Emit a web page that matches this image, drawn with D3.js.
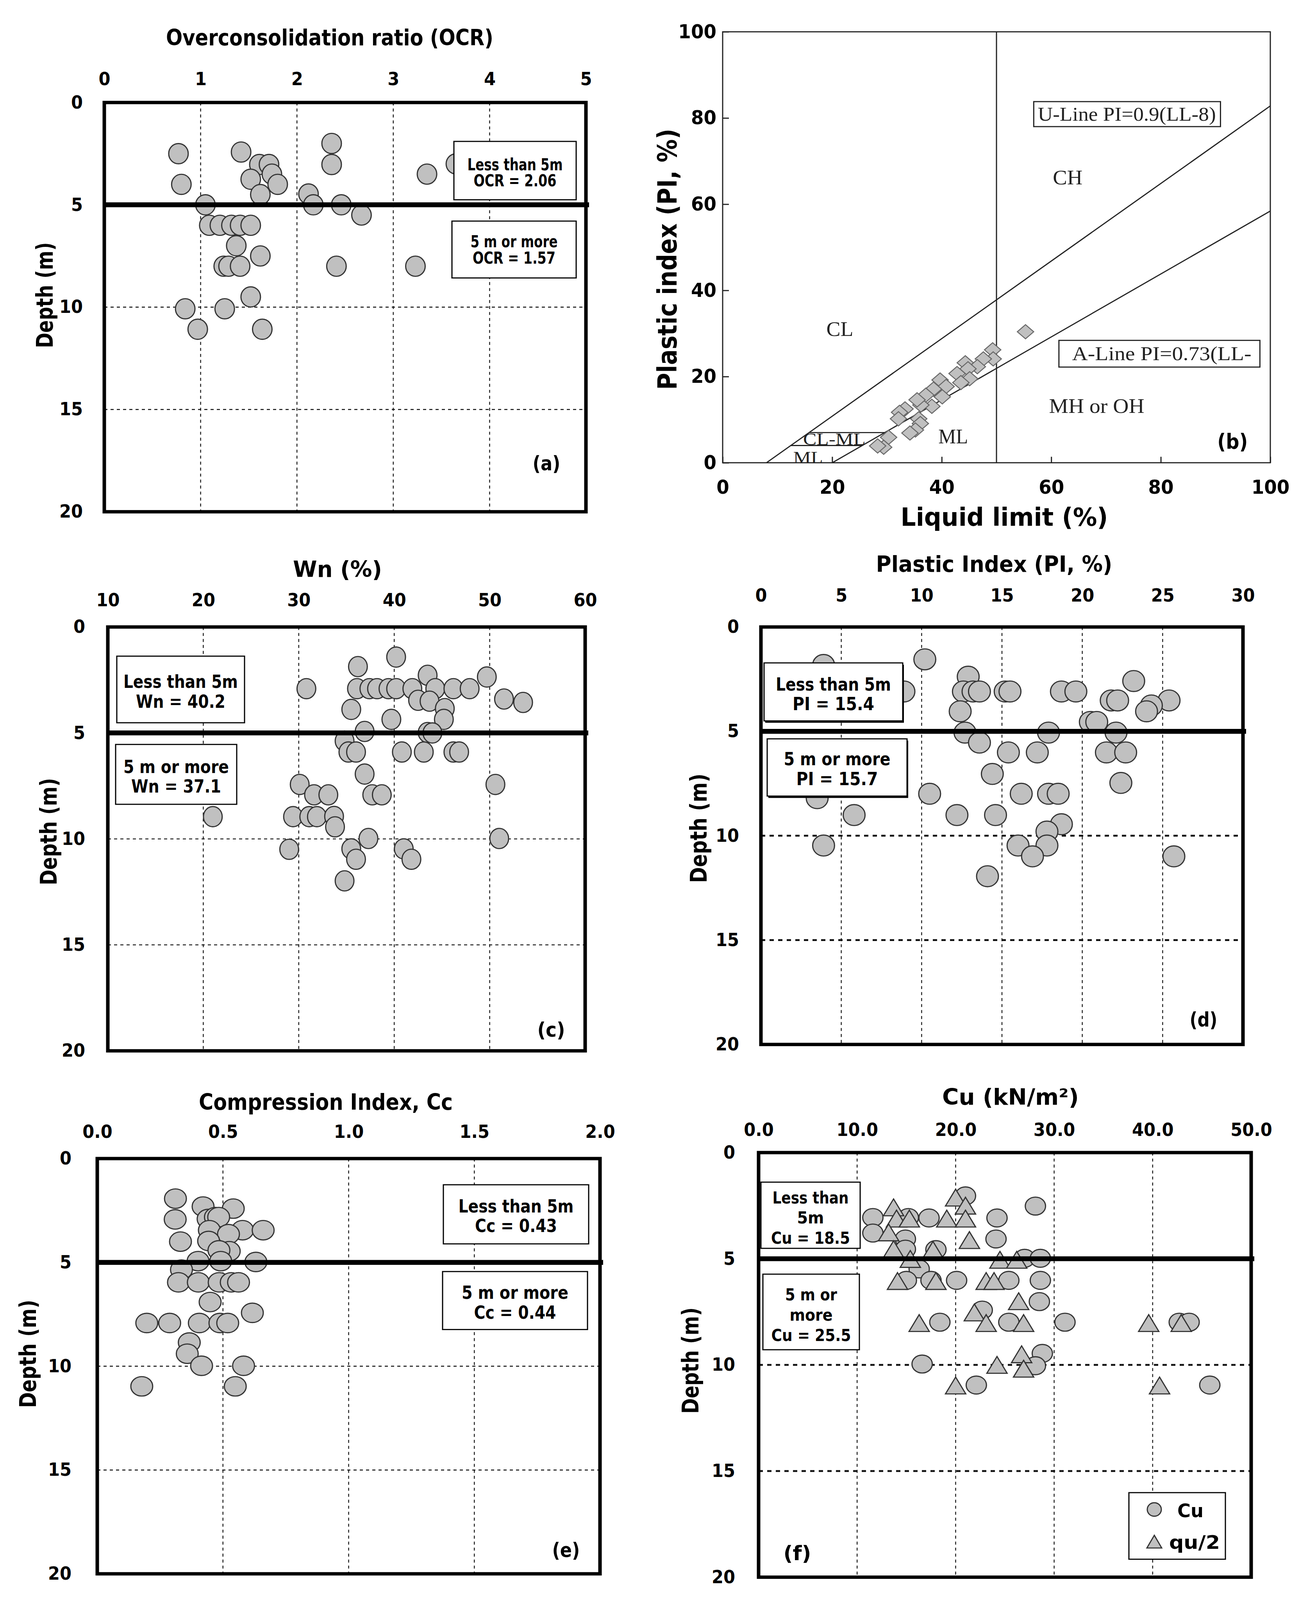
<!DOCTYPE html>
<html>
<head>
<meta charset="utf-8">
<script src="https://cdn.jsdelivr.net/npm/d3@7"></script>
<style>
  html, body { margin: 0; background: #fff; overflow: hidden; }
  svg { display: block; width: 100vw; height: 100vh; }
</style>
</head>
<body>
<svg id="fig" viewBox="0 0 3328 4277" preserveAspectRatio="none"></svg>
<script>
// ---- data ----
const depthTicks = [0, 5, 10, 15, 20];
const depthGrid = [5, 10, 15];

// (a) OCR vs depth
const ocrValue = [0.77, 0.80, 1.42, 1.61, 1.71, 1.74, 1.52, 1.80, 1.62, 2.12, 2.17, 2.36, 2.36, 2.46, 2.67, 3.35, 3.65, 1.05,
  1.09, 1.20, 1.32, 1.41, 1.52, 1.37, 1.62, 1.24, 1.29, 1.41, 2.41, 3.23, 1.52, 0.84, 1.25, 0.97, 1.64];
const ocrDepth = [2.5, 4.0, 2.42, 3.03, 3.03, 3.5, 3.75, 4.0, 4.5, 4.47, 5.0, 2.0, 3.03, 5.0, 5.5, 3.5, 3.0, 5.0,
  6.0, 6.0, 6.0, 6.0, 6.0, 7.0, 7.5, 8.0, 8.0, 8.0, 8.0, 8.0, 9.5, 10.08, 10.08, 11.08, 11.08];
const ocrTicks = [0, 1, 2, 3, 4, 5];

// (b) plasticity chart
const llValue = [55.3, 49.3, 49.4, 47.6, 46.5, 44.3, 44.8, 42.8, 45.1, 43.5, 39.7, 40.8, 38.5, 37.1, 40.1, 38.2, 36.2, 35.5,
  33.3, 32.3, 32.1, 35.8, 36.1, 35.2, 34.2, 30.3, 29.4, 28.3];
const piChart = [30.4, 26.2, 24.1, 24.1, 22.3, 23.2, 21.8, 20.7, 19.5, 18.6, 19.2, 17.7, 17.1, 15.7, 15.3, 13.1, 13.4, 14.6,
  12.5, 11.7, 10.2, 10.2, 9.1, 7.6, 6.9, 5.9, 3.6, 3.9];
const chartTicks = [0, 20, 40, 60, 80, 100];
const uLine = [[8, 0], [100, 82.8]];
const aLine = [[20, 0], [100, 58.4]];
const llDivide = [[50, 0], [50, 100]];
const clmlLow = [[12.4, 4], [25.5, 4]];
const clmlHigh = [[15.8, 7], [29.6, 7]];

// (c) natural water content
const wnValue = [40.2, 36.2, 30.8, 36.1, 37.4, 38.2, 39.4, 40.2, 41.9, 43.5, 44.3, 46.2, 47.9, 49.7, 42.5, 43.7, 51.5, 53.5,
  35.5, 45.3, 45.2, 39.7, 36.9, 43.5, 44.0, 34.8, 35.2, 36.0, 40.8, 43.1, 46.2, 46.8, 36.9, 30.1, 50.6, 31.6, 33.1, 37.7,
  38.7, 21.0, 29.4, 31.1, 31.9, 33.7, 33.8, 37.3, 51.0, 29.0, 35.5, 41.0, 36.0, 41.8, 34.8];
const wnDepth = [1.42, 1.87, 2.91, 2.91, 2.91, 2.91, 2.91, 2.91, 2.91, 2.28, 2.91, 2.91, 2.91, 2.36, 3.46, 3.5, 3.4, 3.56,
  3.89, 3.85, 4.36, 4.36, 4.93, 4.98, 5.0, 5.38, 5.9, 5.9, 5.9, 5.9, 5.9, 5.9, 6.94, 7.43, 7.43, 7.92, 7.92, 7.92,
  7.92, 8.95, 8.95, 8.95, 8.95, 8.94, 9.43, 9.98, 9.98, 10.49, 10.47, 10.47, 10.96, 10.96, 11.98];
const wnTicks = [10, 20, 30, 40, 50, 60];

// (d) plastic index
const piValue = [3.9, 8.9, 10.2, 12.9, 12.6, 13.2, 13.6, 15.2, 15.5, 18.7, 19.6, 23.2, 21.8, 22.2, 25.4, 24.3, 24.0, 12.4,
  20.5, 20.9, 12.7, 17.9, 22.1, 13.6, 15.4, 17.2, 21.5, 22.7, 14.4, 22.4, 3.5, 10.5, 16.2, 17.9, 18.5, 5.8, 12.2, 14.6,
  18.7, 17.8, 3.9, 16.0, 17.8, 16.9, 25.7, 14.1];
const piDepth = [1.82, 3.09, 1.55, 2.38, 3.09, 3.09, 3.09, 3.09, 3.09, 3.09, 3.09, 2.59, 3.52, 3.52, 3.52, 3.76, 4.04, 4.04,
  4.55, 4.55, 5.06, 5.06, 5.06, 5.54, 6.01, 6.01, 6.01, 6.01, 7.04, 7.47, 8.2, 7.99, 7.99, 7.99, 7.99, 9.01, 9.01, 9.01,
  9.45, 9.8, 10.47, 10.47, 10.47, 10.99, 10.99, 11.94];
const piTicks = [0, 5, 10, 15, 20, 25, 30];

// (e) compression index
const ccValue = [0.311, 0.310, 0.421, 0.541, 0.441, 0.470, 0.483, 0.331, 0.446, 0.578, 0.660, 0.522, 0.443, 0.525, 0.484,
  0.401, 0.491, 0.631, 0.335, 0.323, 0.402, 0.485, 0.533, 0.562, 0.449, 0.617, 0.197, 0.288, 0.406, 0.488, 0.519, 0.366,
  0.358, 0.415, 0.582, 0.177, 0.549];
const ccDepth = [1.93, 2.93, 2.31, 2.41, 2.91, 2.82, 2.82, 4.0, 3.45, 3.45, 3.45, 3.64, 3.97, 4.46, 4.42, 4.94, 4.94, 4.98,
  5.35, 5.96, 5.96, 5.96, 5.96, 5.96, 6.91, 7.43, 7.92, 7.92, 7.92, 7.92, 7.92, 8.86, 9.40, 9.98, 9.98, 10.97, 10.97];
const ccTicks = [0, 0.5, 1.0, 1.5, 2.0];

// (f) undrained shear strength
const cuValue = [21.0, 28.1, 11.6, 15.2, 17.3, 24.2, 11.6, 14.9, 24.1, 18.0, 14.9, 27.0, 28.6, 16.3, 15.0, 17.5, 20.1, 25.4,
  28.6, 28.5, 22.7, 18.4, 25.4, 31.1, 42.7, 43.7, 28.8, 28.1, 16.6, 22.1, 45.8];
const cuDepth = [2.04, 2.52, 3.06, 3.06, 3.08, 3.08, 3.79, 4.07, 4.07, 4.57, 4.55, 4.98, 4.98, 5.48, 6.02, 6.02, 6.02, 6.02,
  6.02, 7.02, 7.42, 7.99, 7.99, 7.99, 7.99, 7.99, 9.46, 10.04, 9.96, 10.95, 10.95];
const qu2Value = [20.0, 13.7, 21.0, 14.0, 15.3, 19.1, 21.0, 13.2, 21.4, 13.7, 17.7, 15.4, 24.5, 26.2, 14.1, 18.0, 23.1, 23.9,
  26.4, 21.9, 16.3, 23.1, 26.9, 39.6, 42.9, 26.7, 24.2, 26.9, 20.0, 40.7];
const qu2Depth = [2.12, 2.58, 2.50, 3.11, 3.11, 3.11, 3.11, 3.76, 4.12, 4.55, 4.58, 5.01, 5.05, 5.05, 6.05, 6.05, 6.05, 6.05,
  7.0, 7.53, 8.03, 8.03, 8.03, 8.03, 8.03, 9.50, 10.0, 10.18, 10.97, 10.97];
const cuTicks = [0, 10, 20, 30, 40, 50];

// ---- drawing ----
const SANS = "'DejaVu Sans Condensed', 'DejaVu Sans', sans-serif";
const SERIF = "'Liberation Serif', 'DejaVu Serif', serif";
const FILL = '#c0c0c0';

const svg = d3.select('#fig');
svg.append('rect').attr('width', 3328).attr('height', 4277).attr('fill', '#fff');

function txt(g, s, x, y, size, opt = {}) {
  const t = g.append('text').attr('x', x).attr('y', y).text(s)
    .attr('font-family', opt.family || SANS).attr('font-size', size)
    .attr('font-weight', opt.weight || 'bold').attr('fill', opt.fill || '#000')
    .attr('text-anchor', opt.anchor || 'middle').attr('dominant-baseline', 'central');
  if (opt.len) t.attr('textLength', opt.len).attr('lengthAdjust', 'spacingAndGlyphs');
  if (opt.rotate) t.attr('transform', `rotate(${opt.rotate},${x},${y})`);
  return t;
}

function tri(cx, cy, hw, h) {
  return `M${cx},${cy - h / 2}L${cx + hw},${cy + h / 2}L${cx - hw},${cy + h / 2}Z`;
}

function depthPanel(p) {
  const g = svg.append('g');
  const x = d3.scaleLinear().domain(p.xDomain).range([p.left, p.right]);
  const y = d3.scaleLinear().domain([0, 20]).range([p.top, p.bottom]);

  // grid
  g.selectAll(null).data(p.xGrid).join('line')
    .attr('x1', d => x(d)).attr('x2', d => x(d))
    .attr('y1', p.top).attr('y2', p.bottom)
    .attr('stroke', '#222').attr('stroke-width', 2.5).attr('stroke-dasharray', '8,8');
  g.selectAll(null).data(depthGrid).join('line')
    .attr('x1', p.left).attr('x2', p.right)
    .attr('y1', d => y(d)).attr('y2', d => y(d))
    .attr('stroke', '#111')
    .attr('stroke-width', p.heavy ? 5 : 2.5)
    .attr('stroke-dasharray', p.heavy ? '11,11' : '8,8');

  // points
  p.series.forEach(s => {
    const pts = s.x.map((v, i) => [v, s.d[i]]);
    if (s.shape === 'tri') {
      g.selectAll(null).data(pts).join('path')
        .attr('d', d => tri(x(d[0]), y(d[1]), s.hw, s.h))
        .attr('fill', FILL).attr('stroke', '#333').attr('stroke-width', 3);
    } else {
      g.selectAll(null).data(pts).join('ellipse')
        .attr('cx', d => x(d[0])).attr('cy', d => y(d[1]))
        .attr('rx', s.rx).attr('ry', s.ry)
        .attr('fill', FILL).attr('stroke', '#333').attr('stroke-width', 3);
    }
  });

  // 5 m divide
  g.append('line').attr('x1', p.left).attr('x2', p.right + 8)
    .attr('y1', y(5)).attr('y2', y(5))
    .attr('stroke', '#000').attr('stroke-width', 13);

  // frame
  g.append('rect').attr('x', p.left).attr('y', p.top)
    .attr('width', p.right - p.left).attr('height', p.bottom - p.top)
    .attr('fill', 'none').attr('stroke', '#000').attr('stroke-width', 9);

  // note boxes
  p.boxes.forEach(b => {
    if (p.shadow) {
      g.append('rect').attr('x', b[0] + 3).attr('y', b[1] + 5)
        .attr('width', b[2] - b[0]).attr('height', b[3] - b[1]).attr('fill', '#000');
    }
    g.append('rect').attr('x', b[0]).attr('y', b[1])
      .attr('width', b[2] - b[0]).attr('height', b[3] - b[1])
      .attr('fill', '#fff').attr('stroke', '#000').attr('stroke-width', 3);
    b[4].forEach(l => txt(g, l[0], (b[0] + b[2]) / 2, l[1], p.boxSize || 46, { len: l[2] }));
  });

  // tick labels
  const ax = g.append('g').attr('transform', `translate(0,${p.xLabelY})`)
    .call(d3.axisTop(x).tickValues(p.xTicks).tickFormat(p.xFormat).tickSize(0).tickPadding(0));
  const ay = g.append('g').attr('transform', `translate(${p.yLabelX},0)`)
    .call(d3.axisLeft(y).tickValues(depthTicks).tickFormat(d3.format('d')).tickSize(0).tickPadding(0));
  [ax, ay].forEach(a => {
    a.select('.domain').remove();
    a.attr('font-family', SANS).attr('font-size', 48).attr('font-weight', 'bold').attr('color', '#000');
  });

  // titles
  txt(g, p.title, p.titleX, p.titleY, 60, { len: p.titleLen });
  txt(g, 'Depth (m)', p.yTitleX, p.yTitleY, 58, { len: p.yTitleLen, rotate: -90 });
  txt(g, p.tag[0], p.tag[1], p.tag[2], 54, { len: 71 });
  return { g, x, y };
}

// (a)
depthPanel({
  left: 267, right: 1500, top: 274, bottom: 1368,
  xDomain: [0, 5], xTicks: ocrTicks, xFormat: d3.format('d'), xGrid: [1, 2, 3, 4],
  series: [{ x: ocrValue, d: ocrDepth, rx: 25, ry: 27 }],
  xLabelY: 228, yLabelX: 212,
  title: 'Overconsolidation ratio (OCR)', titleX: 844, titleY: 100, titleLen: 838,
  yTitleX: 115, yTitleY: 789, yTitleLen: 283,
  boxSize: 44,
  boxes: [
    [1162, 378, 1475, 534, [['Less than 5m', 440, 244], ['OCR = 2.06', 483, 212]]],
    [1157, 591, 1475, 743, [['5 m or more', 646, 223], ['OCR = 1.57', 690, 212]]]
  ],
  tag: ['(a)', 1399, 1238]
});

// (c)
depthPanel({
  left: 276, right: 1498, top: 1676, bottom: 2809,
  xDomain: [10, 60], xTicks: wnTicks, xFormat: d3.format('d'), xGrid: [20, 30, 40, 50],
  series: [{ x: wnValue, d: wnDepth, rx: 24, ry: 27 }],
  xLabelY: 1621, yLabelX: 218,
  title: 'Wn (%)', titleX: 864, titleY: 1521, titleLen: 228,
  yTitleX: 125, yTitleY: 2223, yTitleLen: 287,
  boxSize: 48,
  boxes: [
    [299, 1754, 626, 1932, [['Less than 5m', 1822, 293], ['Wn = 40.2', 1875, 229]]],
    [296, 1990, 606, 2150, [['5 m or more', 2050, 270], ['Wn = 37.1', 2102, 230]]]
  ],
  tag: ['(c)', 1411, 2752]
});

// (d)
depthPanel({
  left: 1948, right: 3182, top: 1676, bottom: 2792,
  xDomain: [0, 30], xTicks: piTicks, xFormat: d3.format('d'), xGrid: [5, 10, 15, 20, 25],
  series: [{ x: piValue, d: piDepth, rx: 28, ry: 28 }],
  xLabelY: 1608, yLabelX: 1892, heavy: true, shadow: true,
  title: 'Plastic Index (PI, %)', titleX: 2545, titleY: 1508, titleLen: 605,
  yTitleX: 1789, yTitleY: 2214, yTitleLen: 292,
  boxSize: 48,
  boxes: [
    [1956, 1772, 2311, 1927, [['Less than 5m', 1829, 295], ['PI = 15.4', 1881, 209]]],
    [1964, 1975, 2322, 2128, [['5 m or more', 2029, 273], ['PI = 15.7', 2082, 209]]]
  ],
  tag: ['(d)', 3081, 2725]
});

// (e)
depthPanel({
  left: 249, right: 1536, top: 3097, bottom: 4207,
  xDomain: [0, 2], xTicks: ccTicks, xFormat: d3.format('.1f'), xGrid: [0.5, 1.0, 1.5],
  series: [{ x: ccValue, d: ccDepth, rx: 28, ry: 26 }],
  xLabelY: 3042, yLabelX: 183,
  title: 'Compression Index, Cc', titleX: 834, titleY: 2946, titleLen: 650,
  yTitleX: 72, yTitleY: 3619, yTitleLen: 289,
  boxSize: 48,
  boxes: [
    [1135, 3167, 1507, 3325, [['Less than 5m', 3224, 295], ['Cc = 0.43', 3277, 210]]],
    [1133, 3399, 1504, 3554, [['5 m or more', 3455, 273], ['Cc = 0.44', 3508, 210]]]
  ],
  tag: ['(e)', 1449, 4143]
});

// (f)
const pf = depthPanel({
  left: 1942, right: 3203, top: 3081, bottom: 4216,
  xDomain: [0, 50], xTicks: cuTicks, xFormat: d3.format('.1f'), xGrid: [10, 20, 30, 40],
  series: [
    { x: cuValue, d: cuDepth, rx: 26, ry: 24 },
    { x: qu2Value, d: qu2Depth, shape: 'tri', hw: 26, h: 45 }
  ],
  xLabelY: 3036, yLabelX: 1882, heavy: true,
  title: 'Cu (kN/m²)', titleX: 2587, titleY: 2932, titleLen: 350,
  yTitleX: 1768, yTitleY: 3637, yTitleLen: 284,
  boxSize: 44,
  boxes: [
    [1948, 3160, 2202, 3337, [['Less than', 3202, 195], ['5m', 3255, 69], ['Cu = 18.5', 3309, 202]]],
    [1953, 3406, 2200, 3608, [['5 m or', 3461, 133], ['more', 3515, 110], ['Cu = 25.5', 3569, 204]]]
  ],
  tag: ['(f)', 2041, 4152]
});
// legend of (f)
pf.g.append('rect').attr('x', 2890).attr('y', 3990).attr('width', 247).attr('height', 178)
  .attr('fill', '#fff').attr('stroke', '#000').attr('stroke-width', 3);
pf.g.append('circle').attr('cx', 2955).attr('cy', 4035).attr('r', 18)
  .attr('fill', FILL).attr('stroke', '#333').attr('stroke-width', 3);
txt(pf.g, 'Cu', 3014, 4039, 50, { anchor: 'start', len: 67 });
pf.g.append('path').attr('d', tri(2955, 4121, 19, 34))
  .attr('fill', FILL).attr('stroke', '#333').attr('stroke-width', 3);
txt(pf.g, 'qu/2', 2993, 4123, 50, { anchor: 'start', len: 130 });

// (b) plasticity chart
(function () {
  const g = svg.append('g');
  const x = d3.scaleLinear().domain([0, 100]).range([1850, 3252]);
  const y = d3.scaleLinear().domain([0, 100]).range([1237, 85]);
  const line = d3.line().x(d => x(d[0])).y(d => y(d[1]));

  g.append('rect').attr('x', 1850).attr('y', 85).attr('width', 1402).attr('height', 1152)
    .attr('fill', 'none').attr('stroke', '#222').attr('stroke-width', 3);

  [uLine, aLine, llDivide, clmlLow, clmlHigh].forEach(l => {
    g.append('path').attr('d', line(l)).attr('fill', 'none')
      .attr('stroke', '#222').attr('stroke-width', 3);
  });

  const pts = llValue.map((v, i) => [v, piChart[i]]);
  g.selectAll(null).data(pts).join('path')
    .attr('d', d => {
      const cx = x(d[0]), cy = y(d[1]);
      return `M${cx},${cy - 19}L${cx + 21},${cy}L${cx},${cy + 19}L${cx - 21},${cy}Z`;
    })
    .attr('fill', FILL).attr('stroke', '#666').attr('stroke-width', 2.5);

  const ax = g.append('g').attr('transform', 'translate(0,1237)')
    .call(d3.axisBottom(x).tickValues(chartTicks).tickFormat(d3.format('d')).tickSize(-16).tickPadding(46));
  const ay = g.append('g').attr('transform', 'translate(1850,0)')
    .call(d3.axisLeft(y).tickValues(chartTicks).tickFormat(d3.format('d')).tickSize(-16).tickPadding(16));
  [ax, ay].forEach(a => {
    a.select('.domain').remove();
    a.selectAll('.tick line').attr('stroke', '#222').attr('stroke-width', 3);
    a.attr('font-family', SANS).attr('font-size', 52).attr('font-weight', 'bold').attr('color', '#000');
  });

  // region labels
  const serif = { family: SERIF, weight: 'normal', fill: '#222' };
  txt(g, 'CL', x(21.4), y(31.0), 54, { ...serif, len: 69 });
  txt(g, 'CH', x(63.0), y(66.2), 54, { ...serif, len: 76 });
  txt(g, 'MH or OH', x(68.3), y(13.2), 54, { ...serif, len: 244 });
  txt(g, 'ML', x(42.1), y(6.1), 54, { ...serif, len: 76 });
  txt(g, 'CL-ML', x(20.4), y(5.5), 46, { ...serif, len: 160 });
  txt(g, 'ML', x(15.6), y(1.2), 46, { ...serif, len: 76 });

  g.append('rect').attr('x', x(56.8)).attr('y', y(83.8))
    .attr('width', x(90.9) - x(56.8)).attr('height', y(78.0) - y(83.8))
    .attr('fill', '#fff').attr('stroke', '#222').attr('stroke-width', 3);
  txt(g, 'U-Line PI=0.9(LL-8)', x(73.8), y(80.9), 52, { ...serif, len: 456 });

  g.append('rect').attr('x', x(61.4)).attr('y', y(28.4))
    .attr('width', x(98.1) - x(61.4)).attr('height', y(22.2) - y(28.4))
    .attr('fill', '#fff').attr('stroke', '#222').attr('stroke-width', 3);
  txt(g, 'A-Line PI=0.73(LL-', x(63.8), y(25.3), 52, { ...serif, anchor: 'start', len: 459 });

  txt(g, '(b)', x(93.1), y(4.9), 56, { len: 78 });
  txt(g, 'Liquid limit (%)', 2571, 1382, 66, { len: 531 });
  txt(g, 'Plastic index (PI, %)', 1709, 693, 68, { len: 698, rotate: -90 });
})();
</script>
</body>
</html>
